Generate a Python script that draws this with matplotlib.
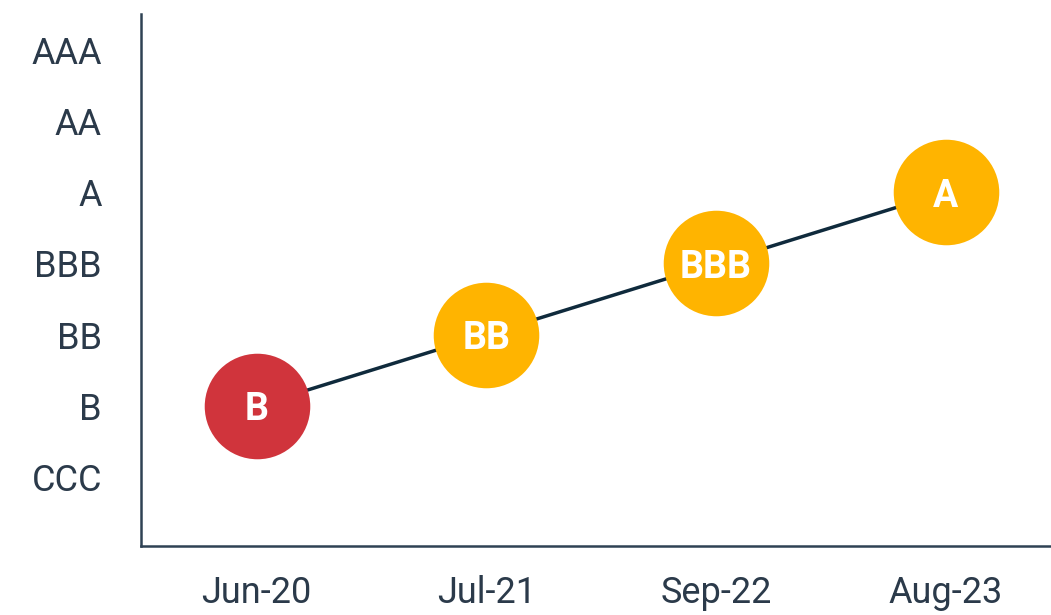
import matplotlib
matplotlib.use("Agg")
import matplotlib.pyplot as plt

# === data ===
RATINGS = ["CCC", "B", "BB", "BBB", "A", "AA", "AAA"]
DATES = ["Jun-20", "Jul-21", "Sep-22", "Aug-23"]
HISTORY = ["B", "BB", "BBB", "A"]
POINT_COLORS = ["#D0343C", "#FFB400", "#FFB400", "#FFB400"]

# === style ===
TEXT_COLOR = "#2B3A4A"
SPINE_COLOR = "#2F4254"
LINE_COLOR = "#0F2A3C"

plt.rcParams["font.family"] = ["Roboto", "DejaVu Sans"]

fig = plt.figure(figsize=(10.51, 6.15), dpi=100)
ax = fig.add_axes([0.134, 0.112, 0.866, 0.865])

xs = list(range(len(DATES)))
ys = [RATINGS.index(r) for r in HISTORY]

ax.plot(xs, ys, color=LINE_COLOR, lw=2.5, zorder=2)
for x, y, lab, c in zip(xs, ys, HISTORY, POINT_COLORS):
    ax.plot(x, y, "o", ms=76, color=c, mec="none", zorder=3)
    ax.text(x, y, lab, ha="center", va="center_baseline", color="white",
            fontsize=27, fontweight="bold", zorder=4)

ax.set_xticks(xs)
ax.set_xticklabels(DATES)
ax.set_yticks(range(len(RATINGS)))
ax.set_yticklabels(RATINGS)
ax.set_xlim(-0.504, 3.459)
ax.set_ylim(-0.97, 6.5)

ax.tick_params(axis="both", length=0, labelsize=26, labelcolor=TEXT_COLOR)
ax.tick_params(axis="y", pad=28)
ax.tick_params(axis="x", pad=21)

for side in ["top", "right"]:
    ax.spines[side].set_visible(False)
for side in ["left", "bottom"]:
    ax.spines[side].set_color(SPINE_COLOR)
    ax.spines[side].set_linewidth(1.8)

fig.savefig("out.png", dpi=100)
